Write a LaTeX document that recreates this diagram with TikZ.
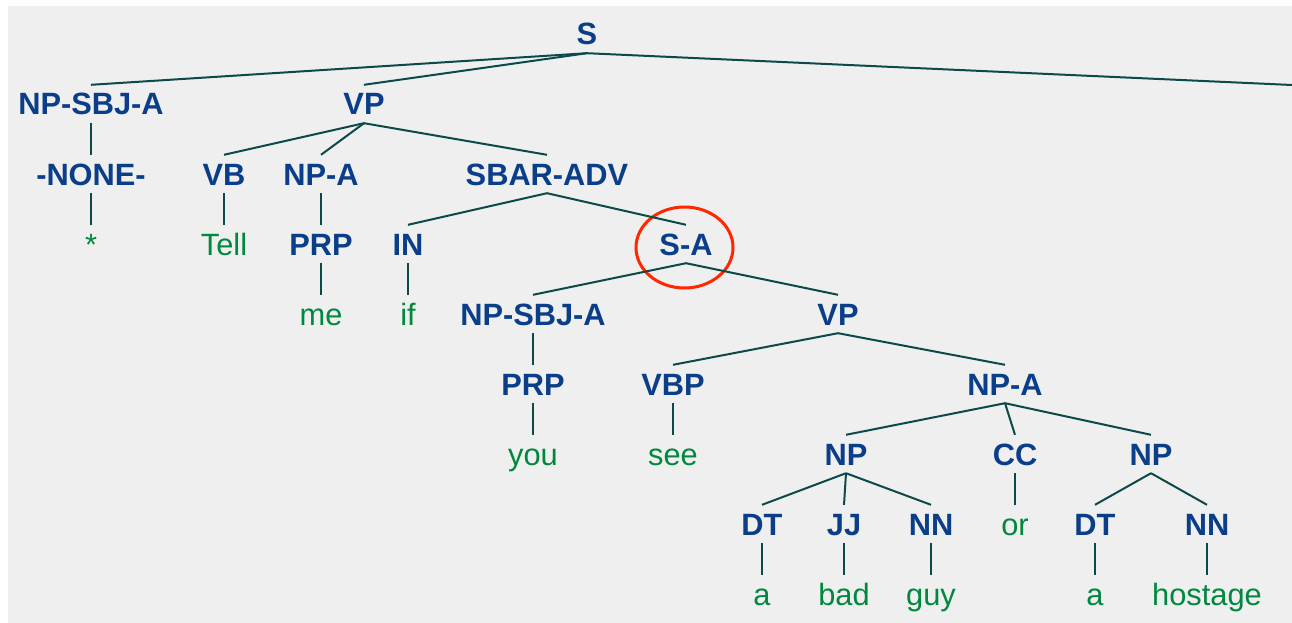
\documentclass[tikz,border=0pt]{standalone}
\usepackage{fontspec}
\setmainfont{Liberation Sans}
\usepackage{tikz}
\usetikzlibrary{shapes.geometric}
\definecolor{tagblue}{RGB}{10,62,136}
\definecolor{wordgreen}{RGB}{0,136,62}
\definecolor{branch}{RGB}{12,74,74}
\definecolor{panel}{RGB}{239,239,239}
\definecolor{ringred}{RGB}{255,38,0}
\tikzset{
  tag/.style={font=\fontsize{30.8}{36}\selectfont\bfseries, text=tagblue, text height=22pt, text depth=0pt, inner xsep=0pt, inner ysep=8pt, anchor=base},
  wrd/.style={font=\fontsize{30.8}{36}\selectfont, text=wordgreen, text height=22pt, text depth=0pt, inner xsep=0pt, inner ysep=8pt, anchor=base},
  br/.style={draw=branch, line width=2pt},
  hilite/.style={draw=ringred, line width=3pt, ellipse, inner sep=0pt}
}

\begin{document}
\begin{tikzpicture}[x=1pt, y=-1pt]
    \useasboundingbox (0,0) rectangle (1292,623);
    \fill[panel] (8,6) rectangle (1292,623);

    % Root
    \node[tag] (s) at (587,45) {S};
    \coordinate (soff) at (1292,85);

    % Left subject
    \node[tag] (sbj) at (91,115) {NP-SBJ-A};
    \node[tag] (none) at (91,185) {-NONE-};
    \node[wrd] (star) at (91,255) {*};

    % Main VP
    \node[tag] (vp) at (364,115) {VP};
    \node[tag] (vb) at (224,185) {VB};
    \node[wrd] (tell) at (224,255) {Tell};
    \node[tag] (npa) at (321,185) {NP-A};
    \node[tag] (prp) at (321,255) {PRP};
    \node[wrd] (me) at (321,325) {me};
    \node[tag] (sbar) at (547,185) {SBAR-ADV};
    \node[tag] (in) at (408,255) {IN};
    \node[wrd] (if) at (408,325) {if};

    % Embedded clause
    \node[tag] (sa) at (686,255) {S-A};
    \node[hilite, minimum width=97, minimum height=81] (ring) at (684.5,247.5) {};
    \node[tag] (sbj2) at (533,325) {NP-SBJ-A};
    \node[tag] (prp2) at (533,395) {PRP};
    \node[wrd] (you) at (533,465) {you};
    \node[tag] (vp2) at (838,325) {VP};
    \node[tag] (vbp) at (673,395) {VBP};
    \node[wrd] (see) at (673,465) {see};

    % Object
    \node[tag] (npa2) at (1005,395) {NP-A};
    \node[tag] (np1) at (846,465) {NP};
    \node[tag] (cc) at (1015,465) {CC};
    \node[tag] (np2) at (1151,465) {NP};
    \node[tag] (dt1) at (762,535) {DT};
    \node[tag] (jj) at (844,535) {JJ};
    \node[tag] (nn1) at (931,535) {NN};
    \node[wrd] (or) at (1015,535) {or};
    \node[tag] (dt2) at (1095,535) {DT};
    \node[tag] (nn2) at (1207,535) {NN};
    \node[wrd] (a1) at (762,605) {a};
    \node[wrd] (bad) at (844,605) {bad};
    \node[wrd] (guy) at (931,605) {guy};
    \node[wrd] (a2) at (1095,605) {a};
    \node[wrd] (host) at (1207,605) {hostage};

    % Branches
    \draw[br] (s.south) -- (sbj.north);
    \draw[br] (s.south) -- (vp.north);
    \draw[br] (s.south) -- (soff);
    \draw[br] (sbj.south) -- (none.north);
    \draw[br] (none.south) -- (star.north);
    \draw[br] (vp.south) -- (vb.north);
    \draw[br] (vp.south) -- (npa.north);
    \draw[br] (vp.south) -- (sbar.north);
    \draw[br] (vb.south) -- (tell.north);
    \draw[br] (npa.south) -- (prp.north);
    \draw[br] (prp.south) -- (me.north);
    \draw[br] (sbar.south) -- (in.north);
    \draw[br] (sbar.south) -- (sa.north);
    \draw[br] (in.south) -- (if.north);
    \draw[br] (sa.south) -- (sbj2.north);
    \draw[br] (sa.south) -- (vp2.north);
    \draw[br] (sbj2.south) -- (prp2.north);
    \draw[br] (prp2.south) -- (you.north);
    \draw[br] (vp2.south) -- (vbp.north);
    \draw[br] (vp2.south) -- (npa2.north);
    \draw[br] (vbp.south) -- (see.north);
    \draw[br] (npa2.south) -- (np1.north);
    \draw[br] (npa2.south) -- (cc.north);
    \draw[br] (npa2.south) -- (np2.north);
    \draw[br] (np1.south) -- (dt1.north);
    \draw[br] (np1.south) -- (jj.north);
    \draw[br] (np1.south) -- (nn1.north);
    \draw[br] (cc.south) -- (or.north);
    \draw[br] (np2.south) -- (dt2.north);
    \draw[br] (np2.south) -- (nn2.north);
    \draw[br] (dt1.south) -- (a1.north);
    \draw[br] (jj.south) -- (bad.north);
    \draw[br] (nn1.south) -- (guy.north);
    \draw[br] (dt2.south) -- (a2.north);
    \draw[br] (nn2.south) -- (host.north);
\end{tikzpicture}
\end{document}
